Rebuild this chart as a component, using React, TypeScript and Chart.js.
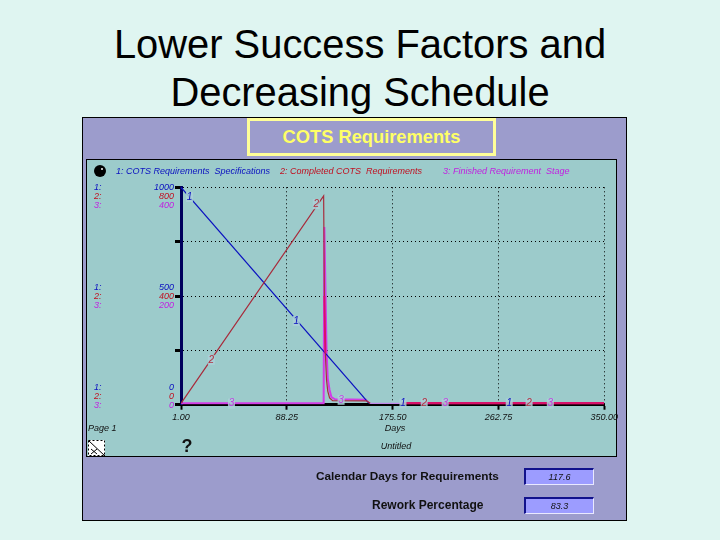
import React, { useEffect, useRef } from "react"
import { Chart, registerables } from "chart.js"

Chart.register(...registerables)

const xTicks = [1, 88.25, 175.5, 262.75, 350]

// values, each on its own y range
const reqDays = [1, 156, 157, 350]
const reqValues = [1000, 6, 6, 6]
const doneDays = [1, 118.6, 119.2, 120, 121, 122, 123.5, 126, 154, 157, 350]
const doneValues = [5, 768, 400, 190, 90, 50, 25, 15, 14, 5, 5]
const stageDays = [1, 118.6, 119.2, 121, 122, 123.5, 125, 128, 154, 157, 350]
const stageValues = [2.5, 2.5, 327, 100, 48, 27, 14, 10, 9, 2.5, 2.5]

const reqLabel = ["1: COTS Requirements  Specifications", "1000", "500", "0"]
const doneLabel = ["2: Completed COTS  Requirements", "800", "400", "0"]
const stageLabel = ["3: Finished Requirement  Stage", "400", "200", "0"]

const reqMarks = [[8, 955], [96, 385], [184, 6], [271.6, 6]]
const doneMarks = [[112.5, 738], [26, 165], [201.5, 5], [288, 5]]
const stageMarks = [[42.6, 2], [133, 9], [218.8, 2], [305.5, 2]]

const BLUE = "#0a10c0"
const RED = "#a82c3c"
const MAGENTA = "#d23ce6"
const LILAC = "#c088e8"
const CRIMSON = "#d8106a"

const toPoints = (xs: number[], ys: number[]) => xs.map((x, i) => ({ x, y: ys[i] }))

const panelText = {
  id: "panelText",
  afterDatasetsDraw(chart: any) {
    const { ctx, scales } = chart
    const italic = "italic 9px 'Liberation Sans'"
    ctx.save()
    ctx.textBaseline = "middle"

    // header legend
    ctx.font = italic
    ctx.textAlign = "left"
    ctx.fillStyle = "#0a10c0"
    ctx.fillText(reqLabel[0], 116, 171.5)
    ctx.fillStyle = "#c01020"
    ctx.fillText(doneLabel[0], 280, 171.5)
    ctx.fillStyle = "#c020e0"
    ctx.fillText(stageLabel[0], 443, 171.5)

    // black ball
    ctx.fillStyle = "#000"
    ctx.beginPath()
    ctx.arc(100, 171, 6, 0, Math.PI * 2)
    ctx.fill()
    ctx.fillStyle = "#bbb"
    ctx.fillRect(101, 168, 2, 2)

    // stacked y labels for three ranges
    const colors = ["#0a10c0", "#c01020", "#c020e0"]
    const rows = [1000, 500, 0]
    rows.forEach((v, r) => {
      const base = scales.y.getPixelForValue(v)
      const top = r === 0 ? base + 0.5 : r === 1 ? base - 8.5 : base - 17.5
      ;[reqLabel, doneLabel, stageLabel].forEach((lab, i) => {
        const y = top + i * 9
        ctx.fillStyle = colors[i]
        ctx.textAlign = "left"
        ctx.fillText(`${i + 1}:`, 94, y)
        ctx.textAlign = "right"
        ctx.fillText(lab[r + 1], 174, y)
      })
    })

    // numbers sitting on the lines
    const marks: [number[][], string, string, string][] = [
      [reqMarks, "1", "#0a10c0", "y"],
      [doneMarks, "2", "#b03040", "yDone"],
      [stageMarks, "3", "#c040e0", "yStage"],
    ]
    ctx.textAlign = "center"
    ctx.font = "italic 10px 'Liberation Sans'"
    marks.forEach(([pts, text, color, axis]) => {
      pts.forEach(([d, v]) => {
        const px = scales.x.getPixelForValue(d)
        const py = scales[axis].getPixelForValue(v)
        ctx.fillStyle = "rgba(172,208,216,0.85)"
        ctx.fillRect(px - 3.5, py - 5, 7, 10)
        ctx.fillStyle = color
        ctx.fillText(text, px, py)
      })
    })

    // footer of the panel
    ctx.fillStyle = "#111"
    ctx.font = italic
    ctx.textAlign = "left"
    ctx.fillText("Page 1", 88, 428.5)
    ctx.textAlign = "center"
    ctx.fillText("Days", 395, 428.5)
    ctx.fillText("Untitled", 396, 446)
    ctx.font = "bold 18px 'Liberation Sans'"
    ctx.fillText("?", 187, 447)

    // little page icon
    ctx.fillStyle = "#fff"
    ctx.fillRect(88, 440, 17, 16)
    ctx.strokeStyle = "#000"
    ctx.lineWidth = 1
    ctx.setLineDash([2, 2])
    ctx.strokeRect(88.5, 440.5, 16, 15)
    ctx.setLineDash([])
    ctx.beginPath()
    ctx.moveTo(89, 441)
    ctx.lineTo(105, 456)
    ctx.moveTo(91, 449)
    ctx.lineTo(97, 454)
    ctx.moveTo(97, 449)
    ctx.lineTo(91, 454)
    ctx.stroke()
    ctx.restore()
  },
}

function ReadoutBox({ top, value }: { top: number; value: string }) {
  return (
    <div
      style={{
        position: "absolute",
        left: 524,
        top,
        width: 70,
        height: 17,
        boxSizing: "border-box",
        background: "#9c9cff",
        borderTop: "2px solid #12128c",
        borderLeft: "2px solid #12128c",
        borderRight: "1px solid #e8e8ff",
        borderBottom: "1px solid #e8e8ff",
        font: "italic 9px 'Liberation Sans'",
        lineHeight: "14px",
        textAlign: "center",
        color: "#111",
      }}
    >
      {value}
    </div>
  )
}

export default function App() {
  const canvasRef = useRef<HTMLCanvasElement>(null)

  useEffect(() => {
    document.body.style.margin = "0"
    if (!canvasRef.current) return

    const chart = new Chart(canvasRef.current, {
      type: "line",
      data: {
        datasets: [
          {
            data: toPoints(stageDays, stageValues),
            yAxisID: "yStage",
            borderColor: MAGENTA,
            borderWidth: 2,
            pointRadius: 0,
            order: 3,
            segment: {
              borderColor: (c: any) => (c.p0.parsed.x >= 154 ? LILAC : MAGENTA),
              borderWidth: (c: any) => (c.p0.parsed.x >= 154 ? 1.2 : 2),
            },
          },
          {
            data: toPoints(reqDays, reqValues),
            yAxisID: "y",
            borderColor: BLUE,
            borderWidth: 1.2,
            pointRadius: 0,
            order: 2,
            segment: { borderColor: (c: any) => (c.p0.parsed.x >= 156 ? "rgba(0,0,0,0)" : BLUE) },
          },
          {
            data: toPoints(doneDays, doneValues),
            yAxisID: "yDone",
            borderColor: RED,
            borderWidth: 1.2,
            pointRadius: 0,
            order: 1,
            segment: {
              borderColor: (c: any) => {
                const d = c.p0.parsed.x
                if (d >= 157) return "rgba(0,0,0,0)"
                if (d >= 119.2 && d < 120) return CRIMSON
                return RED
              },
              borderWidth: (c: any) => (c.p0.parsed.x >= 119.2 && c.p0.parsed.x < 120 ? 2 : 1.2),
            },
          },
          {
            // the three flat tails overlap into one crimson line from day 183
            data: [
              { x: 183, y: 2.5 },
              { x: 350, y: 2.5 },
            ],
            yAxisID: "yStage",
            borderColor: CRIMSON,
            borderWidth: 2.5,
            pointRadius: 0,
            order: 0,
          },
        ],
      },
      options: {
        responsive: false,
        animation: false,
        parsing: false,
        devicePixelRatio: 1,
        layout: { padding: { left: 181, top: 187.3, right: 115.7, bottom: 95.3 } },
        plugins: { legend: { display: false }, tooltip: { enabled: false } },
        scales: {
          x: {
            type: "linear",
            min: 1,
            max: 350,
            afterFit: (s: any) => {
              s.height = 40
            },
            afterBuildTicks: (s: any) => {
              s.ticks = xTicks.map((value) => ({ value }))
            },
            border: { color: "#000", width: 3, dash: [1, 3] },
            grid: {
              color: "#000",
              lineWidth: 1,
              tickColor: "#000",
              tickWidth: 2,
              tickLength: 5,
              tickBorderDash: [],
            },
            ticks: {
              autoSkip: false,
              maxRotation: 0,
              padding: 2,
              color: "#111",
              font: { family: "'Liberation Sans'", size: 9, style: "italic" },
              callback: (v: any) => Number(v).toFixed(2),
            },
          },
          y: {
            min: 0,
            max: 1000,
            afterFit: (s: any) => {
              s.width = 0
            },
            border: { color: "#00005c", width: 3, dash: [1, 3] },
            grid: {
              color: "#000",
              lineWidth: 1,
              tickColor: "#000",
              tickWidth: 3,
              tickLength: 6,
              tickBorderDash: [],
            },
            ticks: { stepSize: 250, display: false },
          },
          yDone: { display: false, min: 0, max: 800 },
          yStage: { display: false, min: 0, max: 400 },
        },
      },
      plugins: [panelText],
    } as any)

    return () => chart.destroy()
  }, [])

  const box: React.CSSProperties = { position: "absolute", boxSizing: "border-box" }
  const rowLabel: React.CSSProperties = {
    position: "absolute",
    font: "bold 12px 'Liberation Sans'",
    color: "#111",
    whiteSpace: "nowrap",
  }

  return (
    <div
      style={{
        position: "absolute",
        left: 0,
        top: 0,
        width: 720,
        height: 540,
        overflow: "hidden",
        background: "#dff5f1",
        fontFamily: "'Liberation Sans'",
      }}
    >
      <div
        style={{
          ...box,
          left: 0,
          top: 20,
          width: 720,
          textAlign: "center",
          fontSize: 39.9,
          lineHeight: "48px",
          color: "#000",
        }}
      >
        Lower Success Factors and
        <br />
        Decreasing Schedule
      </div>
      <div style={{ ...box, left: 82, top: 117, width: 545, height: 404, background: "#9c9ccc", border: "1px solid #000" }} />
      <div
        style={{
          ...box,
          left: 247,
          top: 118,
          width: 249,
          height: 38,
          border: "3px solid #ffff99",
          color: "#ffff66",
          font: "bold 18.3px 'Liberation Sans'",
          lineHeight: "31px",
          textAlign: "center",
        }}
      >
        COTS Requirements
      </div>
      <div style={{ ...box, left: 86, top: 159, width: 531, height: 298, background: "#9ccbcb", border: "1px solid #000" }} />
      <canvas ref={canvasRef} width={720} height={540} style={{ position: "absolute", left: 0, top: 0 }} />
      <div style={{ ...rowLabel, left: 316, top: 469, fontSize: 11.8 }}>Calendar Days for Requirements</div>
      <div style={{ ...rowLabel, left: 372, top: 498 }}>Rework Percentage</div>
      <ReadoutBox top={468} value="117.6" />
      <ReadoutBox top={497} value="83.3" />
    </div>
  )
}
